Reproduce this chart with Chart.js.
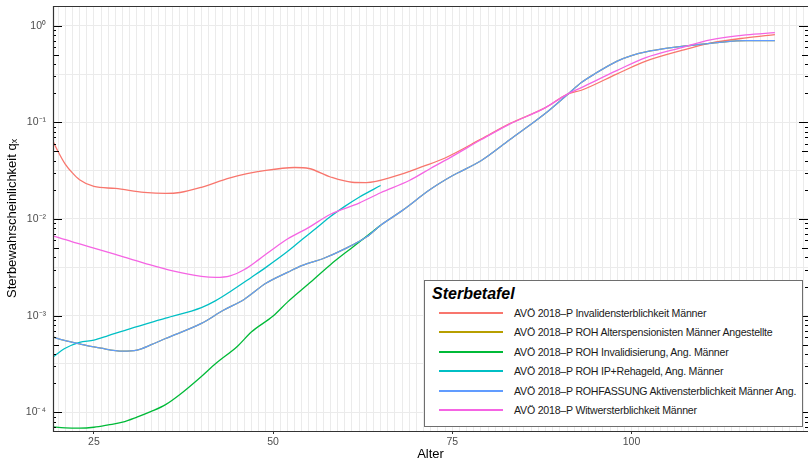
<!DOCTYPE html>
<html>
<head>
<meta charset="utf-8">
<script src="https://cdn.jsdelivr.net/npm/chart.js@4/dist/chart.umd.min.js"></script>
<style>
  html, body { margin: 0; padding: 0; background: #fff; }
  #wrap { position: relative; width: 808px; height: 460px; overflow: hidden; }
  canvas { display: block; }
  #legend { position: absolute; left: 424px; top: 280px; width: 379px; height: 147px; box-sizing: border-box;
            border: 1px solid #6e6e6e; background: #fff; font-family: "Liberation Sans", Arial, sans-serif; }
  #legend .ttl { position: absolute; left: 7px; top: 4.5px; font-size: 16px; line-height: 16px; font-weight: bold; font-style: italic; color: #000; white-space: nowrap; }
  #legend .key { position: absolute; left: 14px; width: 64px; height: 2px; }
  #legend .lab { position: absolute; left: 89px; font-size: 10.6px; line-height: 11px; letter-spacing: -0.22px; color: #1a1a1a; white-space: nowrap; }
</style>
</head>
<body>
<div id="wrap">
  <canvas id="c" width="808" height="460"></canvas>
  <div id="legend"></div>
</div>
<script>
// ---- data ----
const seriesLabels = [
  "AVÖ 2018–P Invalidensterblichkeit Männer",
  "AVÖ 2018–P ROH Alterspensionisten Männer Angestellte",
  "AVÖ 2018–P ROH Invalidisierung, Ang. Männer",
  "AVÖ 2018–P ROH IP+Rehageld, Ang. Männer",
  "AVÖ 2018–P ROHFASSUNG Aktivensterblichkeit Männer Ang.",
  "AVÖ 2018–P Witwersterblichkeit Männer"
];
const seriesColors = ["#F8766D", "#B79F00", "#00BA38", "#00BFC4", "#619CFF", "#F564E3"];

const agesInvalid = [19, 20, 21, 22, 23, 25, 28, 32, 35, 37, 40, 44, 49, 53, 55, 58, 61, 63, 67, 71, 74, 79, 83, 88, 91, 93, 98, 102, 107, 111, 116, 120];
const qInvalid    = [0.071, 0.050, 0.037, 0.030, 0.0255, 0.0217, 0.0207, 0.0189, 0.0184, 0.0188, 0.0213, 0.0267, 0.0318, 0.0341, 0.0333, 0.0272, 0.0240, 0.0238, 0.0277, 0.0352, 0.0428, 0.067, 0.097, 0.142, 0.195, 0.215, 0.318, 0.43, 0.555, 0.66, 0.75, 0.81];

const agesAktiv = [19, 21, 23, 26, 29, 31, 33, 35, 40, 43, 46, 49, 52, 54, 57, 60, 63, 65, 68, 72, 75, 79, 83, 88, 91, 93, 95, 98, 100, 102, 105, 107, 109, 112, 116, 120];
const qAktiv    = [0.00061, 0.00055, 0.00051, 0.00046, 0.00043, 0.00044, 0.00050, 0.00058, 0.00083, 0.00113, 0.00148, 0.00216, 0.0028, 0.0033, 0.0039, 0.0049, 0.0065, 0.0086, 0.0122, 0.0204, 0.028, 0.040, 0.066, 0.124, 0.192, 0.258, 0.322, 0.43, 0.49, 0.535, 0.585, 0.61, 0.635, 0.67, 0.70, 0.70];

const agesAlterspension = [19, 21, 23, 26, 29, 31, 33, 35, 40, 43, 46, 49, 52, 54, 57, 60, 63, 65, 68, 72, 75, 79, 83, 88, 91, 93, 95, 98, 100, 102, 105, 107, 109, 112, 116, 120];
const qAlterspension    = [0.00061, 0.00055, 0.00051, 0.00046, 0.00043, 0.00044, 0.00050, 0.00058, 0.00083, 0.00113, 0.00148, 0.00216, 0.0028, 0.0033, 0.0039, 0.0049, 0.0065, 0.0086, 0.0122, 0.0204, 0.028, 0.040, 0.066, 0.124, 0.192, 0.258, 0.322, 0.43, 0.49, 0.535, 0.585, 0.61, 0.635, 0.67, 0.70, 0.70];

const agesInvalidisierung = [19, 21, 23, 25, 27, 29, 31, 33, 35, 37, 40, 42, 45, 47, 50, 52, 55, 58, 61, 63, 65];
const qInvalidisierung    = [7.1e-5, 6.9e-5, 6.85e-5, 7.0e-5, 7.4e-5, 7.9e-5, 8.9e-5, 0.000102, 0.00012, 0.000153, 0.000235, 0.00032, 0.00048, 0.00068, 0.00099, 0.00138, 0.00215, 0.00337, 0.00505, 0.0066, 0.0086];

const agesIP = [19, 21, 23, 25, 27, 30, 35, 40, 42, 44, 47, 49, 52, 54, 56, 58, 60, 62, 65];
const qIP    = [0.00036, 0.00046, 0.00053, 0.000557, 0.00062, 0.00073, 0.00094, 0.00121, 0.00143, 0.00177, 0.0025, 0.00316, 0.0046, 0.0061, 0.0080, 0.0106, 0.0135, 0.0168, 0.0222];

const agesWitwer = [19, 22, 25, 28, 32, 36, 40, 42, 44, 46, 48, 50, 52, 55, 58, 62, 65, 69, 72, 75, 79, 83, 88, 91, 93, 98, 102, 107, 111, 116, 120];
const qWitwer    = [0.0068, 0.0058, 0.0050, 0.0043, 0.0035, 0.0029, 0.00255, 0.00249, 0.00258, 0.0030, 0.0038, 0.0049, 0.0062, 0.0082, 0.0112, 0.0146, 0.0187, 0.0250, 0.0335, 0.0445, 0.066, 0.096, 0.142, 0.195, 0.229, 0.345, 0.468, 0.595, 0.715, 0.805, 0.847];

const xTickLabels = [25, 50, 75, 100];
const yDecadeLabels = { "-4": "10⁻⁴", "-3": "10⁻³", "-2": "10⁻²", "-1": "10⁻¹", "0": "10⁰" };
const yGridValues = [1e-4, 3.1623e-4, 1e-3, 3.1623e-3, 1e-2, 3.1623e-2, 0.1, 0.31623, 1];

// ---- build ----
const FONT = '"Liberation Sans", Arial, Helvetica, sans-serif';
const seriesAges = [agesInvalid, agesAlterspension, agesInvalidisierung, agesIP, agesAktiv, agesWitwer];
const seriesQ = [qInvalid, qAlterspension, qInvalidisierung, qIP, qAktiv, qWitwer];

const datasets = seriesLabels.map((lab, i) => ({
  label: lab,
  data: seriesAges[i].map((a, j) => ({ x: a, y: seriesQ[i][j] })),
  borderColor: seriesColors[i],
  backgroundColor: seriesColors[i],
  borderWidth: 1.3,
  pointRadius: 0,
  fill: false,
  cubicInterpolationMode: 'monotone',
  order: seriesLabels.length - i
}));

const frame = {
  id: 'frame',
  afterDatasetsDraw(chart) {
    const { ctx, chartArea: a, scales: { y } } = chart;
    ctx.save();
    ctx.strokeStyle = '#000';
    ctx.lineWidth = 1.1;
    for (let d = -5; d <= 0; d++) {
      for (let k = 1; k <= 9; k++) {
        const v = k * Math.pow(10, d);
        if (v < y.min || v > y.max) continue;
        const py = Math.round(y.getPixelForValue(v)) + 0.5;
        const len = k === 1 ? 9 : (k === 5 ? 6 : 3);
        ctx.beginPath();
        ctx.moveTo(a.left, py); ctx.lineTo(a.left + len, py);
        ctx.moveTo(a.right, py); ctx.lineTo(a.right - len, py);
        ctx.stroke();
      }
    }
    ctx.strokeStyle = '#333';
    ctx.lineWidth = 1.2;
    ctx.beginPath();
    ctx.moveTo(a.right + 2, a.top + 0.5); ctx.lineTo(a.left + 0.5, a.top + 0.5);
    ctx.lineTo(a.left + 0.5, a.bottom + 0.5); ctx.lineTo(a.right + 2, a.bottom + 0.5);
    ctx.stroke();
    ctx.restore();
  }
};

new Chart(document.getElementById('c'), {
  type: 'line',
  data: { datasets },
  options: {
    responsive: false,
    animation: false,
    layout: { padding: { top: 6, right: -2, left: 0, bottom: 0 } },
    plugins: { legend: { display: false }, tooltip: { enabled: false } },
    scales: {
      x: {
        type: 'linear', min: 19.295, max: 124.62,
        afterFit: s => { s.height = 29; s.paddingLeft = 0; s.paddingRight = 0; },
        border: { display: false },
        grid: {
          color: '#ebebeb', lineWidth: 1, drawTicks: true, tickLength: 3,
          tickColor: c => (c.tick && xTickLabels.includes(c.tick.value)) ? '#333' : 'rgba(0,0,0,0)'
        },
        ticks: {
          stepSize: 1, autoSkip: false, maxRotation: 0, includeBounds: false,
          color: '#4d4d4d', font: { family: FONT, size: 10.5 }, padding: 2,
          callback: v => xTickLabels.includes(v) ? String(v) : ''
        },
        title: { display: true, text: 'Alter', color: '#000', font: { family: FONT, size: 13 }, padding: { top: 0, bottom: -2 } }
      },
      y: {
        type: 'logarithmic', min: 6.4e-5, max: 1.6,
        afterFit: s => { s.width = 53; s.paddingTop = 0; s.paddingBottom = 0; },
        afterBuildTicks: s => { s.ticks = yGridValues.map(v => ({ value: v })); },
        border: { display: false },
        grid: { color: '#ebebeb', lineWidth: 1, drawTicks: false },
        ticks: {
          autoSkip: false, color: '#4d4d4d', font: { family: FONT, size: 10.5 }, padding: 7,
          callback: v => { const l = Math.log10(v); const r = Math.round(l); return Math.abs(l - r) < 1e-6 ? (yDecadeLabels[String(r)] || '') : ''; }
        },
        title: { display: true, text: 'Sterbewahrscheinlichkeit qₓ', color: '#000', font: { family: FONT, size: 13 }, padding: { top: 4.5, bottom: 0 } }
      }
    }
  },
  plugins: [frame]
});

// ---- legend (built from the same label / colour arrays) ----
const lg = document.getElementById('legend');
const t = document.createElement('div');
t.className = 'ttl'; t.textContent = 'Sterbetafel';
lg.appendChild(t);
seriesLabels.forEach((lab, i) => {
  const k = document.createElement('div');
  k.className = 'key';
  k.style.top = (31 + i * 19.4) + 'px';
  k.style.background = seriesColors[i];
  lg.appendChild(k);
  const s = document.createElement('div');
  s.className = 'lab';
  s.style.top = (27 + i * 19.4) + 'px';
  s.textContent = lab;
  lg.appendChild(s);
});
</script>
</body>
</html>
